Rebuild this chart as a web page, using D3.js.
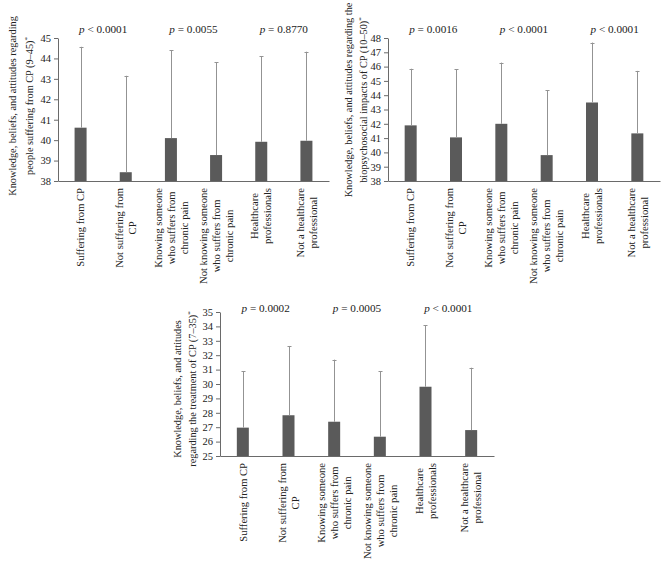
<!DOCTYPE html>
<html><head><meta charset="utf-8">
<script src="https://cdn.jsdelivr.net/npm/d3@7"></script>
<style>
body{margin:0;background:#fff}
svg text{font-family:"Liberation Serif","Times New Roman",serif;fill:#222}
</style>
</head><body><svg id="c" width="667" height="568"></svg>
<script>
// ---------- DATA ----------
const categories = [
  ["Suffering from CP"],
  ["Not suffering from", "CP"],
  ["Knowing someone", "who suffers from", "chronic pain"],
  ["Not knowing someone", "who suffers from", "chronic pain"],
  ["Healthcare", "professionals"],
  ["Not a healthcare", "professional"]
];

const peopleMeans = [40.61, 38.43, 40.10, 39.27, 39.92, 39.97];
const peopleUpper = [44.57, 43.15, 44.41, 43.81, 44.10, 44.33];
const peopleTicks = [38, 39, 40, 41, 42, 43, 44, 45];
const peopleTitle = ["Knowledge, beliefs, and attitudes regarding", "people suffering from CP (9–45)"];
const peopleP = ["< 0.0001", "= 0.0055", "= 0.8770"];

const bioMeans = [41.89, 41.05, 42.00, 39.81, 43.49, 41.33];
const bioUpper = [45.85, 45.82, 46.28, 44.35, 47.68, 45.70];
const bioTicks = [38, 39, 40, 41, 42, 43, 44, 45, 46, 47, 48];
const bioTitle = ["Knowledge, beliefs, and attitudes regarding the", "biopsychosocial impacts of CP (10–50)"];
const bioP = ["= 0.0016", "< 0.0001", "< 0.0001"];

const treatMeans = [26.97, 27.83, 27.38, 26.34, 29.81, 26.80];
const treatUpper = [30.90, 32.64, 31.69, 30.88, 34.08, 31.13];
const treatTicks = [25, 26, 27, 28, 29, 30, 31, 32, 33, 34, 35];
const treatTitle = ["Knowledge, beliefs, and attitudes", "regarding the treatment of CP (7–35)"];
const treatP = ["= 0.0002", "= 0.0005", "< 0.0001"];

// ---------- STYLE ----------
const FONT = '"Liberation Serif","Times New Roman",serif';
const axisColor = "#6a6a6a";
const barColor = "#5a5a5a";
const errColor = "#939393";

const svg = d3.select("#c");

function draw(cfg) {
  const g = svg.append("g");
  const x = d3.scaleBand().domain(d3.range(categories.length)).range([cfg.x0, cfg.x1]);
  const y = d3.scaleLinear().domain([cfg.ticks[0], cfg.ticks[cfg.ticks.length - 1]]).range([cfg.y1, cfg.y0]);
  const bw = 12;

  // y axis
  const ya = g.append("g").attr("transform", `translate(${cfg.x0},0)`)
    .call(d3.axisLeft(y).tickValues(cfg.ticks).tickFormat(d3.format("d"))
      .tickSize(4).tickSizeOuter(0).tickPadding(3));
  ya.attr("font-family", FONT).attr("font-size", 10.5);
  ya.selectAll("path,line").attr("stroke", axisColor);
  ya.selectAll("text").attr("fill", "#222");

  // x axis
  const xa = g.append("g").attr("transform", `translate(0,${cfg.y1})`)
    .call(d3.axisBottom(x).tickSize(0).tickSizeOuter(0).tickFormat(""));
  xa.selectAll(".tick").remove();
  xa.select("path").attr("stroke", axisColor);

  // bars
  g.selectAll("rect.bar").data(cfg.means).join("rect")
    .attr("x", (d, i) => x(i) + (x.bandwidth() - bw) / 2)
    .attr("y", d => y(d))
    .attr("width", bw)
    .attr("height", d => cfg.y1 - y(d))
    .attr("fill", barColor);

  // error bars (upper only)
  cfg.upper.forEach((u, i) => {
    const cx = Math.round(x(i) + x.bandwidth() / 2) + 0.5;
    g.append("line").attr("x1", cx).attr("x2", cx)
      .attr("y1", y(cfg.means[i])).attr("y2", y(u))
      .attr("stroke", errColor).attr("stroke-width", 1);
    g.append("line").attr("x1", cx - 2).attr("x2", cx + 2)
      .attr("y1", Math.round(y(u)) + 0.5).attr("y2", Math.round(y(u)) + 0.5)
      .attr("stroke", errColor).attr("stroke-width", 1);
  });

  // p-values
  cfg.p.forEach((pv, k) => {
    const cx = x(2 * k) + x.bandwidth();
    const t = g.append("text").attr("x", cx).attr("y", cfg.pY)
      .attr("text-anchor", "middle").attr("font-size", 11.2);
    t.append("tspan").attr("font-style", "italic").text("p");
    t.append("tspan").text(" " + pv);
  });

  // category labels
  const lh = 13;
  categories.forEach((lines, i) => {
    const cx = x(i) + x.bandwidth() / 2;
    const texts = lines.map(l => g.append("text").attr("text-anchor", "middle")
      .attr("font-size", 10.6).attr("dy", "0.35em").text(l));
    const maxW = d3.max(texts, t => t.node().getComputedTextLength());
    const cy = cfg.y1 + 7 + maxW / 2;
    texts.forEach((t, j) => {
      const ox = cx + (j - (lines.length - 1) / 2) * lh;
      t.attr("transform", `translate(${ox},${cy}) rotate(-90)`);
    });
  });

  // y title
  cfg.title.forEach((line, j) => {
    const t = g.append("text").attr("text-anchor", "middle").attr("font-size", 10.3)
      .attr("dy", "0.35em")
      .attr("transform", `translate(${cfg.titleX[j]},${cfg.titleY}) rotate(-90)`);
    t.append("tspan").text(line);
    if (j === cfg.title.length - 1) {
      t.append("tspan").attr("font-size", 7).attr("dy", "-0.55em").text("*");
    }
  });
}

draw({means: peopleMeans, upper: peopleUpper, ticks: peopleTicks, title: peopleTitle, p: peopleP,
  x0: 58, x1: 329, y0: 38, y1: 181, pY: 33, titleX: [12.5, 29.5], titleY: 106});
draw({means: bioMeans, upper: bioUpper, ticks: bioTicks, title: bioTitle, p: bioP,
  x0: 388, x1: 660, y0: 38, y1: 181, pY: 33, titleX: [348, 363.5], titleY: 100});
draw({means: treatMeans, upper: treatUpper, ticks: treatTicks, title: treatTitle, p: treatP,
  x0: 220, x1: 494, y0: 312, y1: 456, pY: 312, titleX: [177.5, 192.5], titleY: 389});
</script>
</body></html>
